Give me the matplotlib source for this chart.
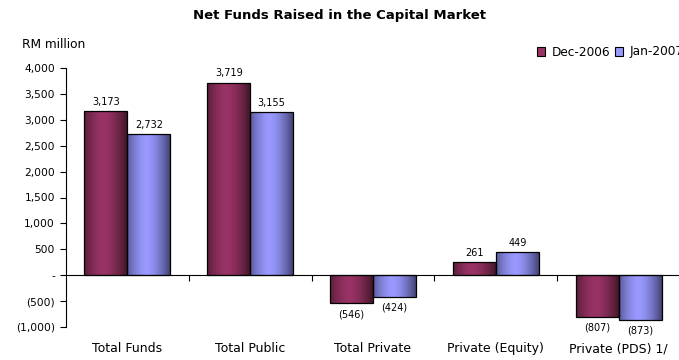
import numpy as np
import matplotlib.pyplot as plt
from matplotlib.colors import LinearSegmentedColormap
from matplotlib.patches import Patch

# Net funds raised, RM million
categories = ['Total Funds', 'Total Public', 'Total Private', 'Private (Equity)', 'Private (PDS) 1/']
dec_2006 = [3173, 3719, -546, 261, -807]
jan_2007 = [2732, 3155, -424, 449, -873]
series_names = ['Dec-2006', 'Jan-2007']

y_ticks = [-1000, -500, 0, 500, 1000, 1500, 2000, 2500, 3000, 3500, 4000]

face = {'Dec-2006': '#993366', 'Jan-2007': '#9999FF'}
shade = {'Dec-2006': '#431729', 'Jan-2007': '#444475'}


def fmt_tick(v):
    if v == 0:
        return '-'
    if v < 0:
        return '({:,})'.format(-v)
    return '{:,}'.format(v)


def fmt_value(v):
    if v < 0:
        return '({:,})'.format(-v)
    return '{:,}'.format(v)


def cylinder_bars(ax, xs, heights, width, name):
    '''bars with a horizontal dark-light-dark shading'''
    cmap = LinearSegmentedColormap.from_list(name, [face[name], shade[name]])
    t = np.linspace(0, 1, 64)
    grad = (np.clip(np.abs(t - 0.45) / 0.55, 0, 1) ** 1.6).reshape(1, -1)
    bars = ax.bar(xs, heights, width, facecolor='none', edgecolor='black', linewidth=0.9, zorder=3)
    for b in bars:
        x0, y0 = b.get_x(), b.get_y()
        w, h = b.get_width(), b.get_height()
        im = ax.imshow(grad, cmap=cmap, aspect='auto',
                       extent=(x0, x0 + w, min(y0, y0 + h), max(y0, y0 + h)),
                       vmin=0, vmax=1, zorder=2, interpolation='bilinear')
        im.set_clip_path(b)
    return bars


fig = plt.figure(figsize=(6.79, 3.6), dpi=100)
ax = fig.add_axes([66 / 679, 1 - 327 / 360, 614 / 679, (327 - 68) / 360])

x = np.arange(len(categories))
w = 0.35
b1 = cylinder_bars(ax, x - w / 2, dec_2006, w, 'Dec-2006')
b2 = cylinder_bars(ax, x + w / 2, jan_2007, w, 'Jan-2007')

for bars, vals in ((b1, dec_2006), (b2, jan_2007)):
    for b, v in zip(bars, vals):
        cx = b.get_x() + b.get_width() / 2
        if v >= 0:
            ax.annotate(fmt_value(v), (cx, v), xytext=(0, 3), textcoords='offset points',
                        ha='center', va='bottom', fontsize=7)
        else:
            ax.annotate(fmt_value(v), (cx, v), xytext=(0, -4), textcoords='offset points',
                        ha='center', va='top', fontsize=7)

ax.set_xlim(-0.5, len(categories) - 0.5)
ax.set_ylim(-1000, 4000)
ax.set_yticks(y_ticks)
ax.set_yticklabels([fmt_tick(v) for v in y_ticks], fontsize=7.7)
ax.tick_params(axis='y', direction='out', length=4, width=0.8, pad=4)

# zero line with category separators
ax.axhline(0, color='black', linewidth=0.8, zorder=4)
ax.plot(np.arange(len(categories) - 1) + 0.5, np.zeros(len(categories) - 1), linestyle='none',
        marker=3, markersize=4, markeredgewidth=0.8, color='black', zorder=4, clip_on=False)

ax.set_xticks(x)
ax.set_xticklabels(categories, fontsize=9)
ax.tick_params(axis='x', length=0, pad=11)

for s in ('top', 'right', 'bottom'):
    ax.spines[s].set_visible(False)
ax.spines['left'].set_linewidth(0.8)

fig.text(0.5, 1 - 15 / 360, 'Net Funds Raised in the Capital Market', ha='center', va='center',
         fontsize=9.5, fontweight='bold')
fig.text(22 / 679, 1 - 45 / 360, 'RM million', ha='left', va='center', fontsize=8.7)

handles = [Patch(facecolor=face[n], edgecolor='black', linewidth=0.8) for n in series_names]
fig.legend(handles, series_names, loc='center left', bbox_to_anchor=(537 / 679, 1 - 52 / 360),
           ncol=2, frameon=False, fontsize=8.7, handlelength=0.7, handleheight=0.7,
           columnspacing=0.4, handletextpad=0.5, borderaxespad=0, borderpad=0)

fig.savefig('out.png', dpi=100)
